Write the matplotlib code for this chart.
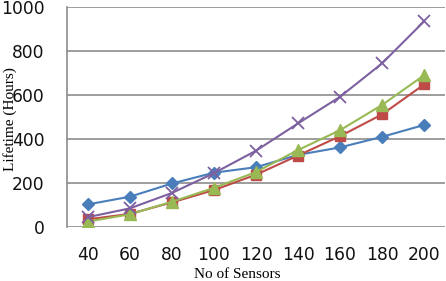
import matplotlib
matplotlib.use("Agg")
import matplotlib.pyplot as plt

sensors = [40, 60, 80, 100, 120, 140, 160, 180, 200]
series_blue = [103, 138, 198, 247, 272, 328, 362, 410, 464]
series_red = [35, 60, 112, 168, 238, 325, 413, 512, 648]
series_green = [25, 58, 115, 178, 250, 350, 440, 555, 690]
series_purple = [45, 85, 155, 245, 347, 471, 592, 744, 935]
yticks = [0, 200, 400, 600, 800, 1000]

fig = plt.figure(figsize=(4.46, 2.81), dpi=100)
ax = fig.add_axes([0.150, 0.192, 0.848, 0.783])

x = list(range(len(sensors)))
ax.plot(x, series_blue, color="#4A7EBB", marker="D", markersize=6.5, lw=1.5, zorder=3)
ax.plot(x, series_red, color="#BE4B48", marker="s", markersize=7, lw=1.5, zorder=3)
ax.plot(x, series_green, color="#98B954", marker="^", markersize=8, lw=1.5, zorder=3)
ax.plot(x, series_purple, color="#7D60A0", marker="x", markersize=8, mew=1.3, lw=1.5, zorder=4)

ax.set_xlim(-0.5, len(sensors) - 0.5)
ax.set_ylim(0, 1000)
ax.set_yticks(yticks)
ax.set_xticks(x)
ax.set_xticklabels([str(s) for s in sensors])
ax.yaxis.grid(True, color="#8c8c8c", lw=1.2)
ax.set_axisbelow(True)
for s in ["top", "right", "bottom"]:
    ax.spines[s].set_visible(False)
ax.spines["left"].set_color("#8c8c8c")
ax.spines["left"].set_linewidth(1.2)
ax.tick_params(axis="both", length=0, labelsize=12.3, labelcolor="#111111")
ax.tick_params(axis="y", pad=16)
ax.tick_params(axis="x", pad=14)
for lab in ax.get_xticklabels() + ax.get_yticklabels():
    lab.set_fontfamily("DejaVu Sans")

fig.text(237 / 446, 1 - 275 / 281, "No of Sensors", fontfamily="Liberation Serif",
         fontsize=11, ha="center", va="center")
fig.text(10 / 446, 1 - 119 / 281, "Lifetime (Hours)", fontfamily="Liberation Serif",
         fontsize=11, ha="center", va="center", rotation=90)

fig.savefig("out.png", dpi=100)
